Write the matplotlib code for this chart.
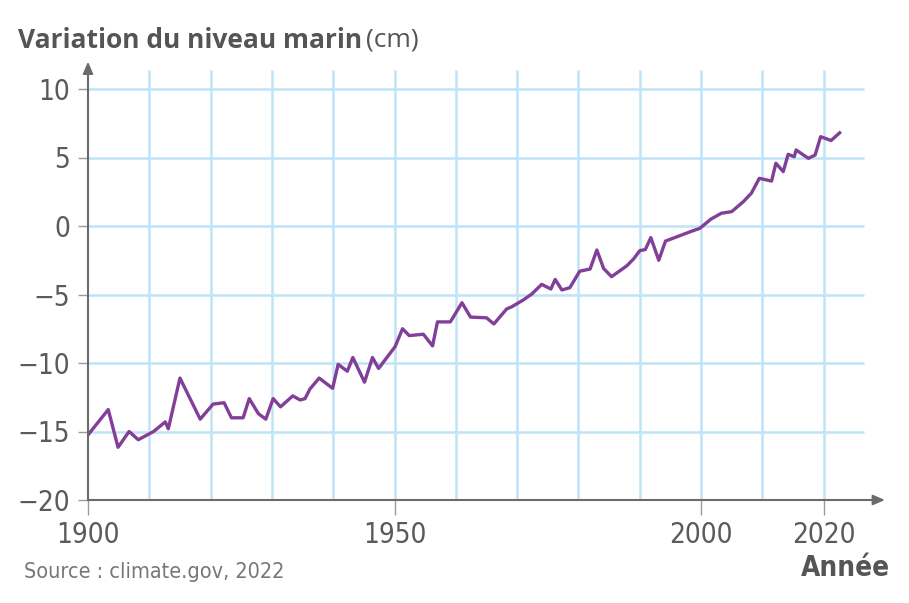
import matplotlib
matplotlib.use("Agg")
import matplotlib.pyplot as plt
from matplotlib import font_manager

# sea level change (cm)
years = [1900, 1903.3, 1904.9, 1906.7, 1908.2, 1910.7, 1912.6, 1913.1, 1915.0, 1918.3,
         1920.4, 1922.2, 1923.4, 1925.3, 1926.3, 1927.8, 1929.0, 1930.2, 1931.4, 1933.4,
         1934.6, 1935.4, 1936.2, 1937.7, 1939.9, 1940.8, 1942.3, 1943.2, 1945.1, 1946.4,
         1947.4, 1950.1, 1951.3, 1952.4, 1954.7, 1956.2, 1957.0, 1959.1, 1961.0, 1962.4,
         1965.0, 1966.2, 1968.3, 1969.1, 1971.0, 1972.4, 1974.0, 1975.5, 1976.2, 1977.3,
         1978.6, 1980.2, 1981.9, 1983.0, 1984.1, 1985.4, 1987.9, 1989.0, 1990.0, 1990.9,
         1991.8, 1993.1, 1994.2, 1998.7, 1999.8, 2001.6, 2003.3, 2005.0, 2006.9, 2008.2,
         2009.5, 2011.5, 2012.2, 2013.4, 2014.2, 2015.2, 2015.5, 2017.5, 2018.6, 2019.5,
         2021.2, 2022.6]
level = [-15.25, -13.4, -16.15, -15.0, -15.6, -15.0, -14.3, -14.8, -11.1, -14.1,
         -13.0, -12.9, -14.0, -14.0, -12.6, -13.7, -14.1, -12.6, -13.2, -12.4,
         -12.7, -12.6, -11.9, -11.1, -11.85, -10.1, -10.6, -9.6, -11.4, -9.6,
         -10.4, -8.8, -7.5, -8.0, -7.9, -8.75, -7.0, -7.0, -5.6, -6.65,
         -6.7, -7.15, -6.05, -5.9, -5.4, -4.96, -4.26, -4.6, -3.9, -4.67,
         -4.5, -3.3, -3.14, -1.75, -3.1, -3.7, -2.9, -2.4, -1.8, -1.72,
         -0.85, -2.5, -1.1, -0.34, -0.17, 0.5, 0.93, 1.05, 1.78, 2.39,
         3.48, 3.28, 4.58, 3.97, 5.23, 5.06, 5.55, 4.94, 5.18, 6.52,
         6.24, 6.8]

yticks = [-20, -15, -10, -5, 0, 5, 10]
xticks = [1900, 1950, 2000, 2020]
grid_x = list(range(1910, 2030, 10))

GRAY = "#5a5a5a"
GRID = "#bfe3f7"
PURPLE = "#813f97"

# condensed face for ticks and footer (DejaVu Sans Condensed)
narrow_path = None
narrow_bold = None
for f in font_manager.findSystemFonts():
    n = f.lower()
    if n.endswith("dejavusanscondensed.ttf"):
        narrow_path = f
    if n.endswith("dejavusanscondensed-bold.ttf"):
        narrow_bold = f


def nprop(size, bold=False):
    p = narrow_bold if bold else narrow_path
    if p:
        return font_manager.FontProperties(fname=p, size=size)
    return font_manager.FontProperties(family="DejaVu Sans", size=size,
                                       weight="bold" if bold else "normal")


fig = plt.figure(figsize=(9.09, 6.03), dpi=100)
ax = fig.add_axes([88 / 909, 103 / 603, 797 / 909, 438.4 / 603])
ax.set_xlim(1900, 2030)
ax.set_ylim(-20, 12)

# grid
ax.hlines(yticks[1:], 1900, 2026.5, color=GRID, lw=1.8, zorder=1)
ax.vlines(grid_x, -20, 11.4, color=GRID, lw=1.8, zorder=1)

ax.plot(years, level, color=PURPLE, lw=2.4, zorder=3)

for s in ax.spines.values():
    s.set_visible(False)
ax.annotate("", xy=(1, 0), xytext=(0, 0), xycoords="axes fraction",
            arrowprops=dict(arrowstyle="-|>,head_length=0.7,head_width=0.3", color="#6b6b6b", lw=1.5,
                            shrinkA=0, shrinkB=0), zorder=4)
ax.annotate("", xy=(0, 1), xytext=(0, 0), xycoords="axes fraction",
            arrowprops=dict(arrowstyle="-|>,head_length=0.7,head_width=0.3", color="#6b6b6b", lw=1.5,
                            shrinkA=0, shrinkB=0), zorder=4)

ax.set_yticks(yticks)
ax.set_yticklabels([str(v).replace("-", "\u2212") for v in yticks])
ax.set_xticks(xticks)
ax.set_xticklabels([str(v) for v in xticks])
ax.tick_params(axis="y", length=7, width=1, color="#9a9a9a", pad=6, labelcolor=GRAY)
ax.tick_params(axis="x", length=11, width=1, color="#9a9a9a", pad=4, labelcolor=GRAY)
for lab in ax.get_xticklabels() + ax.get_yticklabels():
    lab.set_fontproperties(nprop(20))

# title in two parts
t1 = fig.text(18 / 909, 1 - 40 / 603, "Variation du niveau marin", fontsize=19, fontweight="bold",
              color="#555555", family=["Open Sans", "DejaVu Sans"], va="center", ha="left")
fig.canvas.draw()
bb = t1.get_window_extent()
fig.text((bb.x1 + 4) / 909, 1 - 40 / 603, "(cm)", fontsize=19, color="#555555",
         family=["Open Sans", "DejaVu Sans"], va="center", ha="left")

fig.text(24 / 909, 1 - 572 / 603, "Source : climate.gov, 2022", color="#777777",
         fontproperties=nprop(15.5), va="center", ha="left")
fig.text(890 / 909, 1 - 568 / 603, "Année", color="#555555",
         fontproperties=nprop(20, bold=True), va="center", ha="right")

fig.savefig("out.png", dpi=100)
